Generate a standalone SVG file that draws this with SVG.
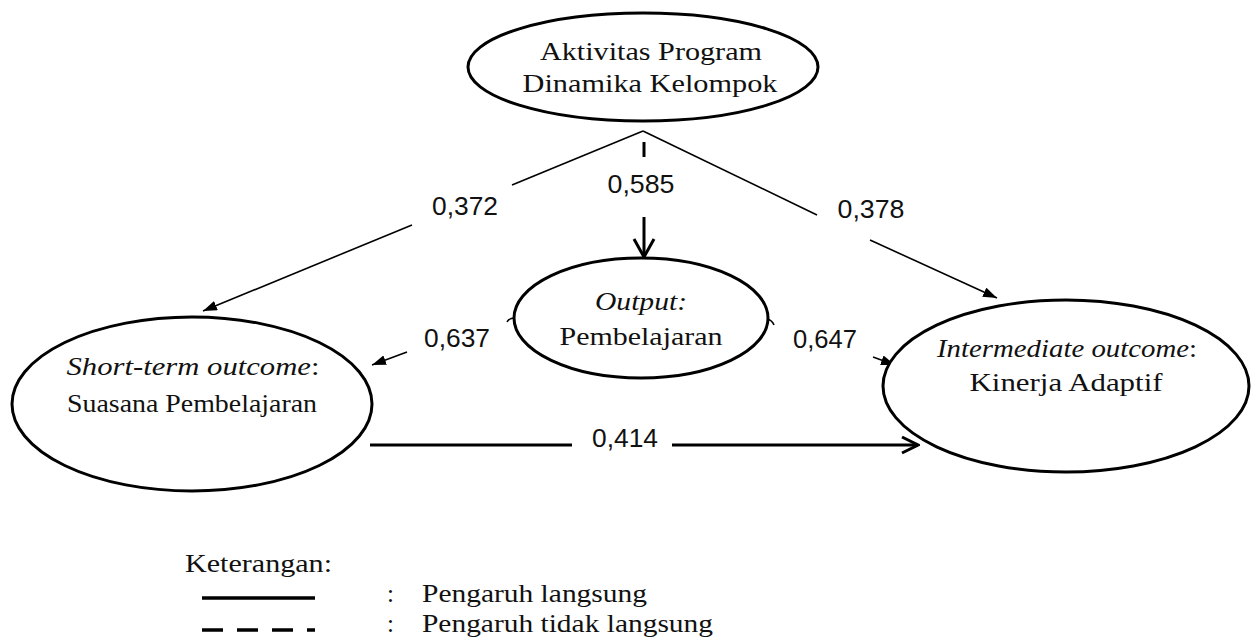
<svg xmlns="http://www.w3.org/2000/svg" width="1252" height="642" viewBox="0 0 1252 642">
<style>
.node{fill:#fff;stroke:#000;stroke-width:3}
.nt{font-family:"Liberation Serif","Times New Roman",serif;font-size:26px;fill:#111;text-anchor:middle}
.it{font-style:italic}
.lbl{font-family:"Liberation Sans",Arial,sans-serif;font-size:26px;fill:#111;text-anchor:middle}
.thin{fill:none;stroke:#000;stroke-width:1.6}
.thick{fill:none;stroke:#000;stroke-width:3}
.lg{font-family:"Liberation Serif","Times New Roman",serif;font-size:25px;fill:#111}
</style>
<defs>
<marker id="tri" viewBox="0 0 14 10" refX="14" refY="5" markerWidth="14" markerHeight="10" markerUnits="userSpaceOnUse" orient="auto">
<path d="M0,0 L14,5 L0,10 z" fill="#000"/>
</marker>
<marker id="open" viewBox="-2 -2 22 24" refX="18" refY="10" markerWidth="22" markerHeight="24" markerUnits="userSpaceOnUse" orient="auto">
<path d="M0,0 L18,10 L0,20" fill="none" stroke="#000" stroke-width="3"/>
</marker>
<marker id="open2" viewBox="-2 -2 20 20" refX="16" refY="8" markerWidth="20" markerHeight="20" markerUnits="userSpaceOnUse" orient="auto">
<path d="M0,0 L16,8 L0,16" fill="none" stroke="#000" stroke-width="3"/>
</marker>
</defs>
<rect width="1252" height="642" fill="#fff"/>

<g id="connectors">
<path class="thin" d="M643,131 L512,185"/>
<path class="thin" d="M412,225 L203,311" marker-end="url(#tri)"/>
<path class="thin" d="M643,131 L817,215"/>
<path class="thin" d="M870,240 L997,298" marker-end="url(#tri)"/>
<path class="thick" d="M644,142 L644,157"/>
<path class="thick" d="M644,217 L644,257" marker-end="url(#open)"/>
<path class="thin" d="M507,322 Q509,318 515,318"/>
<path class="thin" d="M407,352 L372,365" marker-end="url(#tri)"/>
<path class="thin" d="M767,319 Q772,320 774,325"/>
<path class="thin" d="M873,357 L895,365" marker-end="url(#tri)"/>
<path class="thick" d="M370,445 L572,445"/>
<path class="thick" d="M672,445 L918,445" marker-end="url(#open2)"/>
<text class="lbl" x="465" y="215" textLength="66" lengthAdjust="spacingAndGlyphs">0,372</text>
<text class="lbl" x="641" y="193" textLength="67" lengthAdjust="spacingAndGlyphs">0,585</text>
<text class="lbl" x="871" y="218" textLength="67" lengthAdjust="spacingAndGlyphs">0,378</text>
<text class="lbl" x="457" y="347" textLength="66" lengthAdjust="spacingAndGlyphs">0,637</text>
<text class="lbl" x="825" y="348" textLength="64" lengthAdjust="spacingAndGlyphs">0,647</text>
<text class="lbl" x="625" y="447" textLength="66" lengthAdjust="spacingAndGlyphs">0,414</text>
</g>

<g id="node-aktivitas">
<ellipse class="node" cx="643" cy="67" rx="175" ry="54"/>
<text class="nt" x="651" y="60" textLength="222" lengthAdjust="spacingAndGlyphs">Aktivitas Program</text>
<text class="nt" x="650" y="92" textLength="255" lengthAdjust="spacingAndGlyphs">Dinamika Kelompok</text>
</g>

<g id="node-output">
<ellipse class="node" cx="641" cy="318" rx="127" ry="60"/>
<text class="nt it" x="641" y="310" textLength="92" lengthAdjust="spacingAndGlyphs">Output:</text>
<text class="nt" x="641" y="345" textLength="163" lengthAdjust="spacingAndGlyphs">Pembelajaran</text>
</g>

<g id="node-short">
<ellipse class="node" cx="192" cy="404" rx="180" ry="87"/>
<text class="nt" x="193" y="375" textLength="253" lengthAdjust="spacingAndGlyphs"><tspan class="it">Short-term outcome</tspan>:</text>
<text class="nt" x="192" y="412" textLength="250" lengthAdjust="spacingAndGlyphs">Suasana Pembelajaran</text>
</g>

<g id="node-intermediate">
<ellipse class="node" cx="1066" cy="386" rx="183" ry="86"/>
<text class="nt" x="1067" y="357" textLength="260" lengthAdjust="spacingAndGlyphs"><tspan class="it">Intermediate outcome</tspan>:</text>
<text class="nt" x="1066" y="391" textLength="193" lengthAdjust="spacingAndGlyphs">Kinerja Adaptif</text>
</g>

<g id="legend">
<text class="lg" x="185" y="572" textLength="147" lengthAdjust="spacingAndGlyphs">Keterangan:</text>
<line x1="202" y1="598" x2="315" y2="598" stroke="#000" stroke-width="3.5"/>
<line x1="202" y1="630" x2="315" y2="630" stroke="#000" stroke-width="3.5" stroke-dasharray="21 14"/>
<text class="lg" x="387" y="602">:</text>
<text class="lg" x="387" y="632">:</text>
<text class="lg" x="422" y="602" textLength="225" lengthAdjust="spacingAndGlyphs">Pengaruh langsung</text>
<text class="lg" x="422" y="632" textLength="291" lengthAdjust="spacingAndGlyphs">Pengaruh tidak langsung</text>
</g>
</svg>
